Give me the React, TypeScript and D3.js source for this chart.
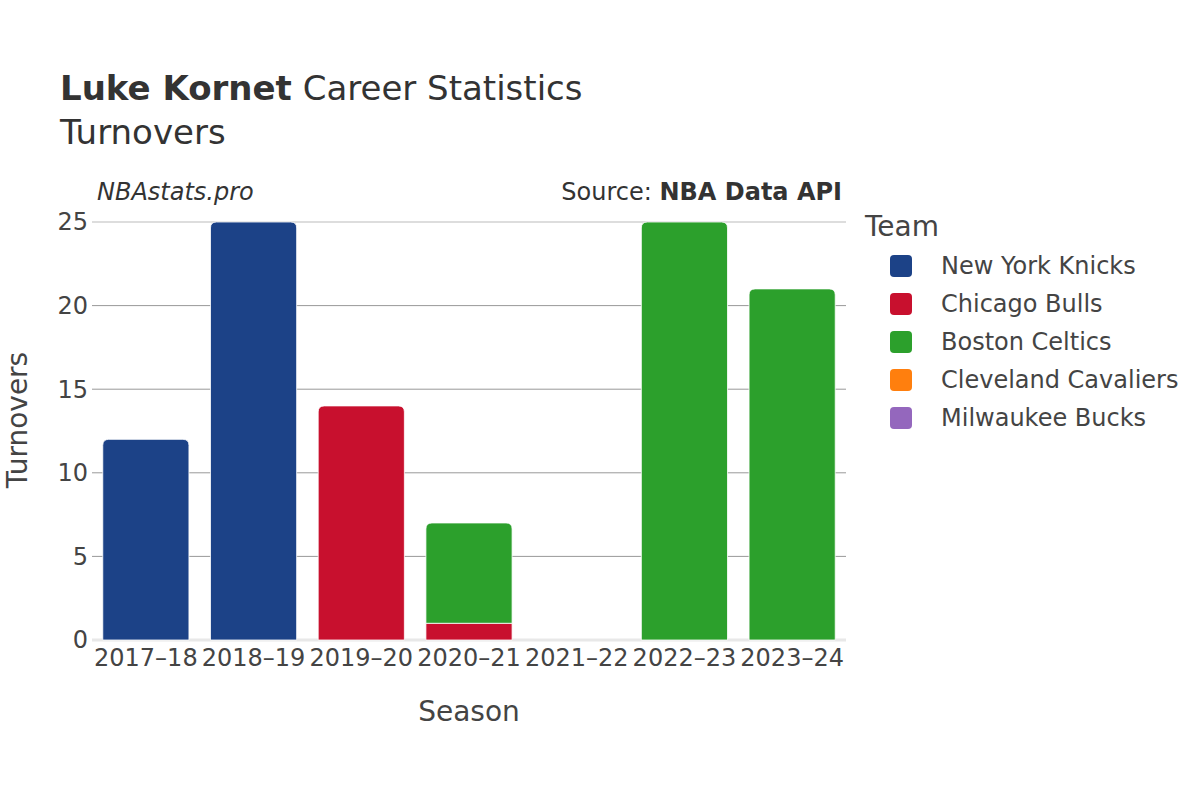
import React from "react";
import * as d3 from "d3";

const seasons = ["2017–18", "2018–19", "2019–20", "2020–21", "2021–22", "2022–23", "2023–24"];
const teams = ["New York Knicks", "Chicago Bulls", "Boston Celtics", "Cleveland Cavaliers", "Milwaukee Bucks"];
const teamColors = ["#1c4287", "#c8102e", "#2ca02c", "#ff7f0e", "#9467bd"];
const knicks = [12, 25, 0, 0, 0, 0, 0];
const bulls = [0, 0, 14, 1, 0, 0, 0];
const celtics = [0, 0, 0, 6, 0, 25, 21];
const cavaliers = [0, 0, 0, 0, 0, 0, 0];
const bucks = [0, 0, 0, 0, 0, 0, 0];
const yTicks = [0, 5, 10, 15, 20, 25];

const W = 1200, H = 800;
const left = 92, right = 846, top = 222, bottom = 640;
const font = "'DejaVu Sans', sans-serif";

function topRoundedRect(x: number, y: number, w: number, h: number, r: number) {
  const rr = Math.min(r, h, w / 2);
  if (h <= 0) return "";
  return `M${x},${y + h}V${y + rr}Q${x},${y} ${x + rr},${y}H${x + w - rr}Q${x + w},${y} ${x + w},${y + rr}V${y + h}Z`;
}

export default function App() {
  const series = [knicks, bulls, celtics, cavaliers, bucks];
  const rows = seasons.map((s, i) => {
    const o: any = { season: s };
    teams.forEach((t, j) => (o[t] = series[j][i]));
    return o;
  });
  const stacked = d3.stack<any>().keys(teams)(rows);
  const x = d3.scaleBand<string>().domain(seasons).range([left, right]).paddingInner(0.2).paddingOuter(0.1);
  const y = d3.scaleLinear().domain([0, 25]).range([bottom, top]);

  const totals = seasons.map((_, i) => series.reduce((a, s) => a + s[i], 0));

  return (
    <svg width={W} height={H} style={{ display: "block", position: "absolute", left: 0, top: 0 }} fontFamily={font}>
      <rect width={W} height={H} fill="#fff" />
      {/* gridlines */}
      {yTicks.filter((t) => t > 0).map((t) => (
        <line key={t} x1={left} x2={right} y1={y(t)} y2={y(t)} stroke={t === 25 ? "#bbb" : "#999"} strokeWidth={1} />
      ))}
      {yTicks.map((t) => (
        <text key={"yt" + t} x={left - 4} y={y(t)} dy="0.35em" textAnchor="end" fontSize={24} fill="#444">{t}</text>
      ))}
      <line x1={left} x2={right} y1={bottom} y2={bottom} stroke="#e8e8e8" strokeWidth={3} />
      {/* zero-height bars for 2021–22 */}
      {seasons.map((s, i) =>
        totals[i] === 0 ? (
          <line key={"z" + s} x1={x(s)!} x2={x(s)! + x.bandwidth()} y1={bottom - 1.5} y2={bottom - 1.5} stroke="#f4f4f4" strokeWidth={1} />
        ) : null
      )}
      {/* bars */}
      {stacked.map((layer, li) =>
        layer.map((d, i) => {
          const v = d[1] - d[0];
          if (v <= 0) return null;
          const isTop = d[1] === totals[i];
          const bx = x(seasons[i])!;
          const bw = x.bandwidth();
          const y0 = y(d[0]);
          const y1 = y(d[1]);
          const p = isTop
            ? topRoundedRect(bx, y1, bw, y0 - y1, 6)
            : `M${bx},${y1}H${bx + bw}V${y0}H${bx}Z`;
          return <path key={li + "-" + i} d={p} fill={teamColors[li]} stroke="#fff" strokeWidth={0.8} />;
        })
      )}
      {/* x tick labels */}
      {seasons.map((s) => (
        <text key={s} x={x(s)! + x.bandwidth() / 2} y={666} textAnchor="middle" fontSize={24} fill="#444">{s}</text>
      ))}
      {/* axis titles */}
      <text x={469} y={721} textAnchor="middle" fontSize={28} fill="#444">Season</text>
      <text transform={`translate(27,420) rotate(-90)`} textAnchor="middle" fontSize={28} fill="#444">Turnovers</text>
      {/* titles */}
      <text x={60} y={100} fontSize={34} fill="#333">
        <tspan fontWeight="bold">Luke Kornet</tspan>
        <tspan> Career Statistics</tspan>
      </text>
      <text x={60} y={144} fontSize={34} fill="#333">Turnovers</text>
      <text x={97} y={200} fontSize={24} fontStyle="italic" fill="#333">NBAstats.pro</text>
      <text x={842} y={200} fontSize={24} textAnchor="end" fill="#333">
        <tspan>Source: </tspan>
        <tspan fontWeight="bold">NBA Data API</tspan>
      </text>
      {/* legend */}
      <text x={865} y={236} fontSize={28} fill="#444">Team</text>
      {teams.map((t, i) => (
        <g key={t} transform={`translate(0,${266 + i * 38})`}>
          <rect x={890} y={-11} width={22} height={22} rx={4} fill={teamColors[i]} />
          <text x={941} y={0} dy="0.35em" fontSize={24} fill="#444">{t}</text>
        </g>
      ))}
    </svg>
  );
}
